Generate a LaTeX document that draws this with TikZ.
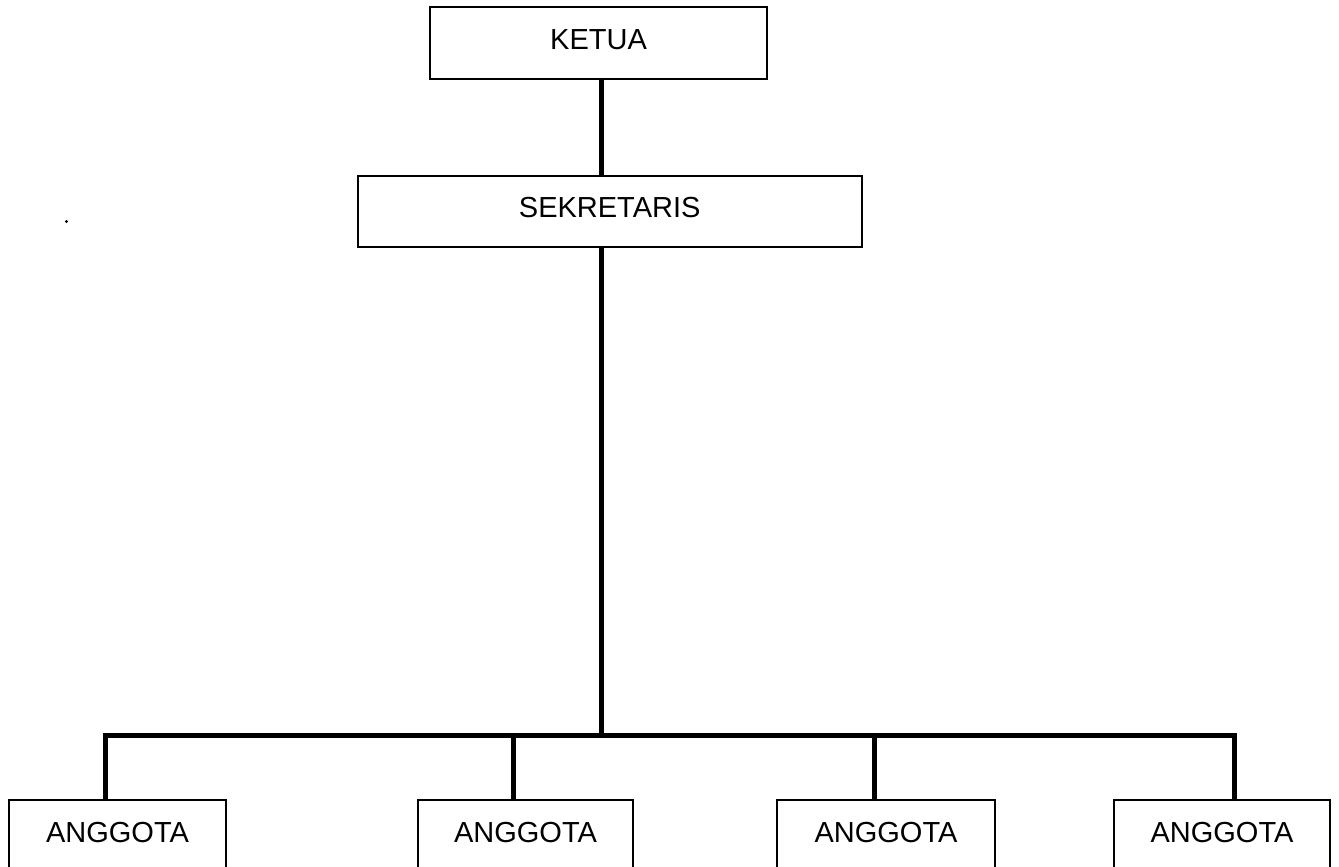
\documentclass[tikz,border=0pt]{standalone}
\usepackage{fontspec}
\setmainfont{Liberation Sans}
\begin{document}
\begin{tikzpicture}[x=1pt,y=1pt,
  orgbox/.style={draw=black,line width=2pt,rectangle,inner sep=0pt,
    text height=12pt,text depth=0pt,font=\fontsize{29}{30}\selectfont},
  conn/.style={line width=5pt,draw=black}]
\useasboundingbox (0,0) rectangle (1339,-867);
\fill[white] (0,0) rectangle (1339,-867);
\clip (0,0) rectangle (1339,-867);
\node[orgbox,minimum width=337pt,minimum height=72pt,text height=14pt] (ketua) at (598.5,-43) {KETUA};
\node[orgbox,minimum width=504pt,minimum height=71.5pt,text height=11pt] (sek) at (609.7,-211.5) {SEKRETARIS};
\node[orgbox,minimum width=217pt,minimum height=72pt] (a1) at (117.5,-836) {ANGGOTA};
\node[orgbox,minimum width=215pt,minimum height=72pt] (a2) at (525.5,-836) {ANGGOTA};
\node[orgbox,minimum width=217.5pt,minimum height=72pt] (a3) at (886,-836) {ANGGOTA};
\node[orgbox,minimum width=216pt,minimum height=72pt] (a4) at (1222,-836) {ANGGOTA};
\coordinate (t) at (601.7,-735);
\coordinate (b1) at (105,-735);
\coordinate (b2) at (513,-735);
\coordinate (b3) at (874,-735);
\coordinate (b4) at (1234,-735);
\draw[conn] (ketua.south -| t) -- (sek.north -| t);
\draw[conn] (sek.south -| t) -- (t);
\draw[conn] (a1.north -| b1) -- (b1) -- (b4) -- (a4.north -| b4);
\draw[conn] (b2) -- (a2.north -| b2);
\draw[conn] (b3) -- (a3.north -| b3);
\fill[black] (66.5,-221.5) circle (1.6pt);
\end{tikzpicture}
\end{document}
